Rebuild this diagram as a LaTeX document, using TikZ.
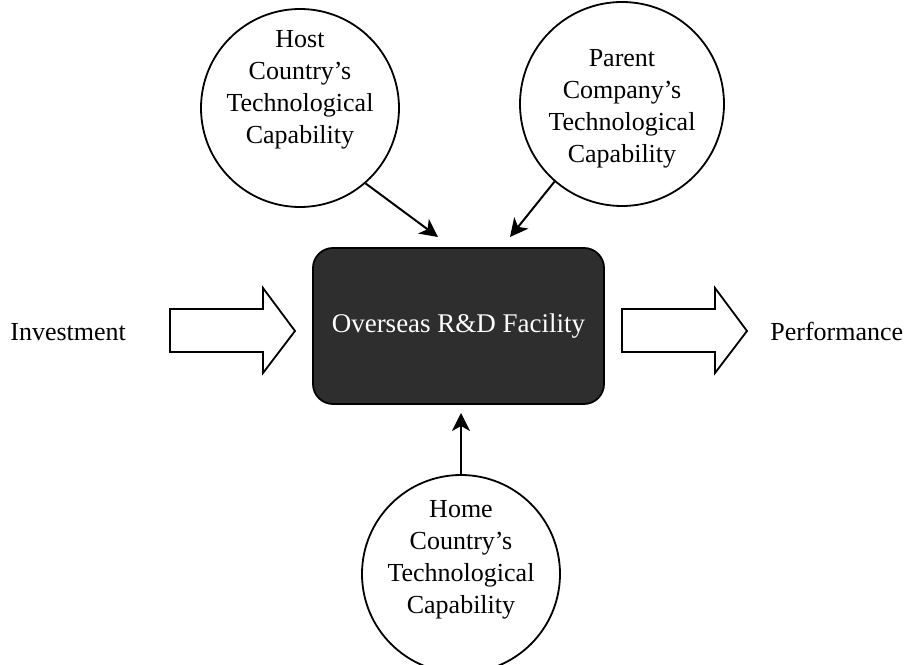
\documentclass[tikz,border=0pt]{standalone}
\usepackage{fontspec}
\setmainfont{Liberation Serif}
\usetikzlibrary{arrows.meta}
\tikzset{>={Stealth[length=9pt,width=9pt,inset=2.5pt]}}

\begin{document}
\begin{tikzpicture}[x=0.5pt, y=0.5pt]
\tikzset{every node/.style={font=\fontsize{13}{16}\selectfont},
  capcircle/.style={draw, circle, line width=0.9pt, inner sep=0pt, minimum size=99pt},
  captext/.style={align=center, inner sep=0pt},
  facility/.style={draw, line width=0.9pt, fill=black!82, rounded corners=10pt, minimum width=145.5pt, minimum height=78pt, text=white, inner sep=0pt, font=\fontsize{13.5}{16}\selectfont},
  fatarrow/.style={draw, line width=0.9pt, line join=miter},
  feed/.style={->, line width=1pt}}
\useasboundingbox (0,0) rectangle (912,665);

    \node[facility] (rd) at (458.5,339) {Overseas R\&D Facility};

    \node[capcircle] (host) at (300,557) {};
    \node[captext] (hosttxt) at (300,575) {Host\\Country's\\Technological\\Capability};

    \node[capcircle, minimum size=102pt] (parent) at (622,561) {};
    \node[captext] (parenttxt) at (622,556) {Parent\\Company's\\Technological\\Capability};

    \node[capcircle] (home) at (461,91) {};
    \node[captext] (hometxt) at (461,105) {Home\\Country's\\Technological\\Capability};

    \coordinate (hostin) at (438,428);
    \coordinate (parentin) at (510,428);
    \coordinate (homein) at (461,252);

    \draw[feed] (host.-49) -- (hostin);
    \draw[feed] (parent.-131) -- (parentin);
    \draw[feed] (home.north) -- (homein);
% % % % % % % % % % % % % % % % % % %
    \node[anchor=base west, inner sep=0pt] (inv) at (10,324) {Investment};
    \node[anchor=base west, inner sep=0pt] (perf) at (770,324) {Performance};

    \draw[fatarrow] (170,313) -- (263,313) -- (263,292) -- (295,334) -- (263,377) -- (263,356) -- (170,356) -- cycle;
    \draw[fatarrow] (622,313) -- (715,313) -- (715,292) -- (747,334) -- (715,377) -- (715,356) -- (622,356) -- cycle;
\end{tikzpicture}
\end{document}
